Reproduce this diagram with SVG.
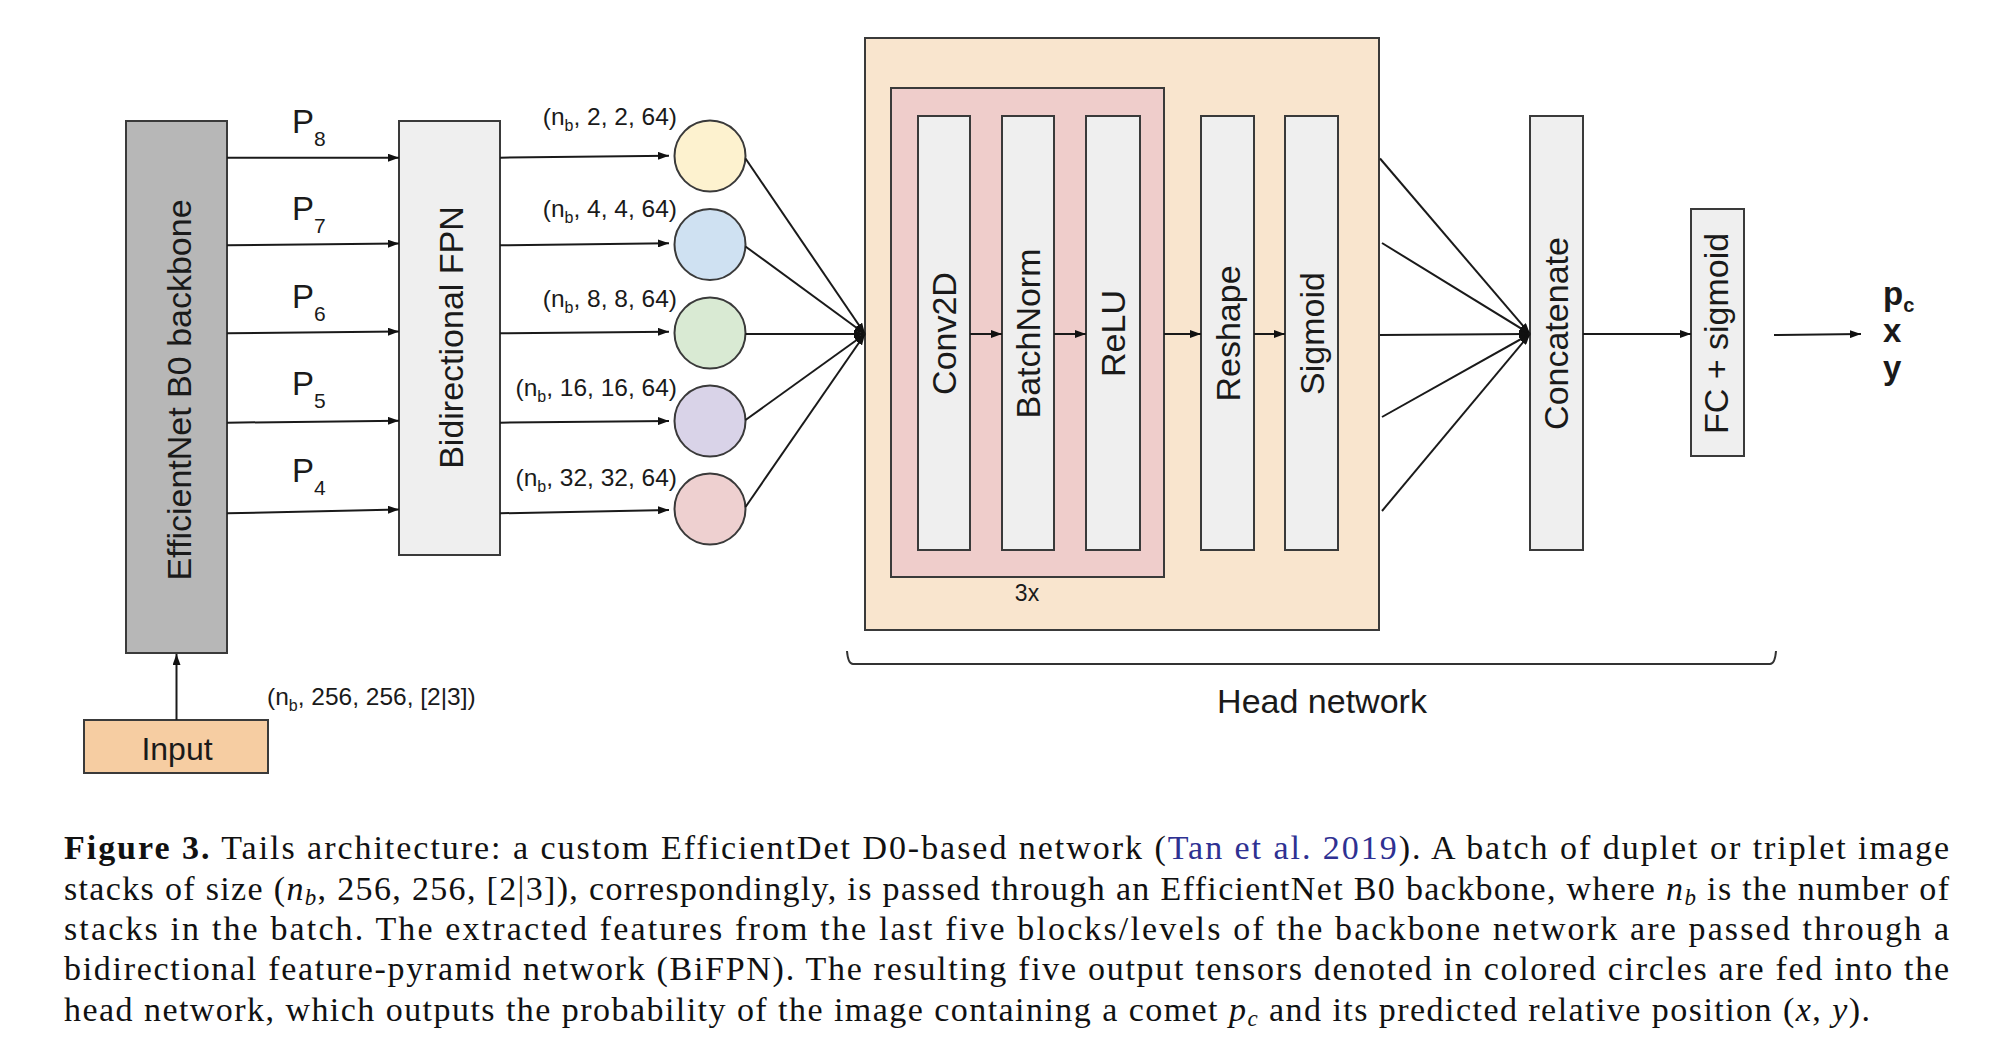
<svg xmlns="http://www.w3.org/2000/svg" width="2004" height="1048" viewBox="0 0 2004 1048">
<style>
.box{stroke:#3a3a3a;stroke-width:2}
.gray{fill:#efefef}
.lbl{font-family:"Liberation Sans",Arial,sans-serif;fill:#1a1a1a}
.big{font-size:34px}
.dim{font-size:24.5px}
.plab{font-size:33px}
.out{font-size:33px;font-weight:bold}
.conn{stroke:#1a1a1a;stroke-width:2;fill:none}
.cap{font-family:"Liberation Serif","Times New Roman",serif;font-size:34px;fill:#111}
</style>
<defs>
<marker id="ah" markerWidth="11" markerHeight="8" refX="11" refY="4" orient="auto" markerUnits="userSpaceOnUse"><path d="M0,0 L11,4 L0,8 z" fill="#111"/></marker>
</defs>
<rect width="2004" height="1048" fill="#fff"/>

<g id="backbone">
<rect class="box" x="126" y="121" width="101" height="532" fill="#b7b7b7"/>
<text class="lbl big" transform="translate(179,390) rotate(-90)" y="12" text-anchor="middle">EfficientNet B0 backbone</text>
</g>
<g id="input">
<rect class="box" x="84" y="720" width="184" height="53" fill="#f6cda2"/>
<text class="lbl" x="177" y="760" font-size="32" text-anchor="middle">Input</text>
</g>
<g id="bifpn">
<rect class="box gray" x="399" y="121" width="101" height="434"/>
<text class="lbl big" transform="translate(451,337.5) rotate(-90)" y="12" text-anchor="middle">Bidirectional FPN</text>
</g>
<g id="circles">
<circle class="box" cx="710" cy="156" r="35.5" fill="#fdf2cf"/>
<circle class="box" cx="710" cy="244.5" r="35.5" fill="#cfe1f2"/>
<circle class="box" cx="710" cy="333" r="35.5" fill="#d9ead3"/>
<circle class="box" cx="710" cy="421" r="35.5" fill="#d9d3e8"/>
<circle class="box" cx="710" cy="509" r="35.5" fill="#eed0d0"/>
</g>
<g id="head">
<rect class="box" x="865" y="38" width="514" height="592" fill="#f9e5ce"/>
<rect class="box" x="891" y="88" width="273" height="489" fill="#efcdcb"/>
<text class="lbl" x="1027" y="601" font-size="23" text-anchor="middle">3x</text>
</g>
<g id="conv2d">
<rect class="box gray" x="918" y="116" width="52" height="434"/>
<text class="lbl big" transform="translate(944,333.5) rotate(-90)" y="12" text-anchor="middle">Conv2D</text>
</g>
<g id="batchnorm">
<rect class="box gray" x="1002" y="116" width="52" height="434"/>
<text class="lbl big" transform="translate(1028,333.5) rotate(-90)" y="12" text-anchor="middle">BatchNorm</text>
</g>
<g id="relu">
<rect class="box gray" x="1086" y="116" width="54" height="434"/>
<text class="lbl big" transform="translate(1113,333.5) rotate(-90)" y="12" text-anchor="middle">ReLU</text>
</g>
<g id="reshape">
<rect class="box gray" x="1201" y="116" width="53" height="434"/>
<text class="lbl big" transform="translate(1227.5,333.5) rotate(-90)" y="12" text-anchor="middle">Reshape</text>
</g>
<g id="sigmoid">
<rect class="box gray" x="1285" y="116" width="53" height="434"/>
<text class="lbl big" transform="translate(1311.5,333.5) rotate(-90)" y="12" text-anchor="middle">Sigmoid</text>
</g>
<g id="concatenate">
<rect class="box gray" x="1530" y="116" width="53" height="434"/>
<text class="lbl big" transform="translate(1556,333.5) rotate(-90)" y="12" text-anchor="middle">Concatenate</text>
</g>
<g id="fc">
<rect class="box gray" x="1691" y="209" width="53" height="247"/>
<text class="lbl big" transform="translate(1716,333.5) rotate(-90)" y="12" text-anchor="middle">FC + sigmoid</text>
</g>
<g id="output">
<text class="lbl out" x="1883" y="305">p<tspan font-size="20" dy="7">c</tspan></text>
<text class="lbl out" x="1883" y="342">x</text>
<text class="lbl out" x="1883" y="379">y</text>
</g>
<g id="headlabel">
<path d="M847,651 Q848,664 853,664 L1770,664 Q1775,664 1776,651" fill="none" stroke="#333" stroke-width="2"/>
<text class="lbl" x="1322" y="713" font-size="34" text-anchor="middle">Head network</text>
</g>

<g id="connectors" class="conn">
<line x1="176.5" y1="720" x2="176.5" y2="654" marker-end="url(#ah)"/>
<line x1="227" y1="157.7" x2="399" y2="157.7" marker-end="url(#ah)"/>
<line x1="227" y1="245.3" x2="399" y2="243.6" marker-end="url(#ah)"/>
<line x1="227" y1="333.3" x2="399" y2="331.6" marker-end="url(#ah)"/>
<line x1="227" y1="422.7" x2="399" y2="420.7" marker-end="url(#ah)"/>
<line x1="227" y1="513.3" x2="399" y2="509.5" marker-end="url(#ah)"/>
<line x1="500" y1="157.7" x2="669" y2="155.7" marker-end="url(#ah)"/>
<line x1="500" y1="245.3" x2="669" y2="243.3" marker-end="url(#ah)"/>
<line x1="500" y1="333.3" x2="669" y2="331.7" marker-end="url(#ah)"/>
<line x1="500" y1="422.7" x2="669" y2="421" marker-end="url(#ah)"/>
<line x1="500" y1="513.3" x2="669" y2="510" marker-end="url(#ah)"/>
<line x1="745.5" y1="158.5" x2="865" y2="334" marker-end="url(#ah)"/>
<line x1="745.5" y1="246.5" x2="865" y2="334" marker-end="url(#ah)"/>
<line x1="745.5" y1="334" x2="865" y2="334" marker-end="url(#ah)"/>
<line x1="745.5" y1="420" x2="865" y2="334" marker-end="url(#ah)"/>
<line x1="745.5" y1="507" x2="865" y2="334" marker-end="url(#ah)"/>
<line x1="970" y1="334" x2="1002" y2="334" marker-end="url(#ah)"/>
<line x1="1054" y1="334" x2="1086" y2="334" marker-end="url(#ah)"/>
<line x1="1164" y1="334" x2="1201" y2="334" marker-end="url(#ah)"/>
<line x1="1254" y1="334" x2="1285" y2="334" marker-end="url(#ah)"/>
<line x1="1380" y1="158.5" x2="1530" y2="334" marker-end="url(#ah)"/>
<line x1="1382" y1="243" x2="1530" y2="334" marker-end="url(#ah)"/>
<line x1="1380" y1="335" x2="1530" y2="334" marker-end="url(#ah)"/>
<line x1="1382" y1="417" x2="1530" y2="334" marker-end="url(#ah)"/>
<line x1="1382" y1="511" x2="1530" y2="334" marker-end="url(#ah)"/>
<line x1="1583" y1="334" x2="1691" y2="334" marker-end="url(#ah)"/>
<line x1="1774" y1="335" x2="1861" y2="334" marker-end="url(#ah)"/>
</g>

<g id="connector-labels" class="lbl">
<text class="plab" x="292" y="133">P<tspan font-size="21" dy="13">8</tspan></text>
<text class="plab" x="292" y="220">P<tspan font-size="21" dy="13">7</tspan></text>
<text class="plab" x="292" y="308">P<tspan font-size="21" dy="13">6</tspan></text>
<text class="plab" x="292" y="395">P<tspan font-size="21" dy="13">5</tspan></text>
<text class="plab" x="292" y="482">P<tspan font-size="21" dy="13">4</tspan></text>
<text class="dim" x="677" y="124.5" text-anchor="end">(n<tspan font-size="16" dy="6">b</tspan><tspan dy="-6">, 2, 2, 64)</tspan></text>
<text class="dim" x="677" y="217" text-anchor="end">(n<tspan font-size="16" dy="6">b</tspan><tspan dy="-6">, 4, 4, 64)</tspan></text>
<text class="dim" x="677" y="306.5" text-anchor="end">(n<tspan font-size="16" dy="6">b</tspan><tspan dy="-6">, 8, 8, 64)</tspan></text>
<text class="dim" x="677" y="396" text-anchor="end">(n<tspan font-size="16" dy="6">b</tspan><tspan dy="-6">, 16, 16, 64)</tspan></text>
<text class="dim" x="677" y="486" text-anchor="end">(n<tspan font-size="16" dy="6">b</tspan><tspan dy="-6">, 32, 32, 64)</tspan></text>
<text class="dim" x="267" y="705" font-size="25">(n<tspan font-size="16" dy="6">b</tspan><tspan dy="-6">, 256, 256, [2|3])</tspan></text>
</g>

<g id="caption" class="cap">
<text x="64" y="859" textLength="1885" lengthAdjust="spacing"><tspan font-weight="bold">Figure 3.</tspan> Tails architecture: a custom EfficientDet D0-based network (<tspan fill="#2e3192">Tan et al. 2019</tspan>). A batch of duplet or triplet image</text>
<text x="64" y="900" textLength="1885" lengthAdjust="spacing">stacks of size (<tspan font-style="italic">n</tspan><tspan font-style="italic" font-size="23" dy="5">b</tspan><tspan dy="-5">, 256, 256, [2|3]), correspondingly, is passed through an EfficientNet B0 backbone, where </tspan><tspan font-style="italic">n</tspan><tspan font-style="italic" font-size="23" dy="5">b</tspan><tspan dy="-5"> is the number of</tspan></text>
<text x="64" y="940" textLength="1885" lengthAdjust="spacing">stacks in the batch.  The extracted features from the last five blocks/levels of the backbone network are passed through a</text>
<text x="64" y="980" textLength="1885" lengthAdjust="spacing">bidirectional feature-pyramid network (BiFPN). The resulting five output tensors denoted in colored circles are fed into the</text>
<text x="64" y="1021" textLength="1806" lengthAdjust="spacing">head network, which outputs the probability of the image containing a comet <tspan font-style="italic">p</tspan><tspan font-style="italic" font-size="23" dy="5">c</tspan><tspan dy="-5"> and its predicted relative position (</tspan><tspan font-style="italic">x</tspan>, <tspan font-style="italic">y</tspan>).</text>
</g>
</svg>
